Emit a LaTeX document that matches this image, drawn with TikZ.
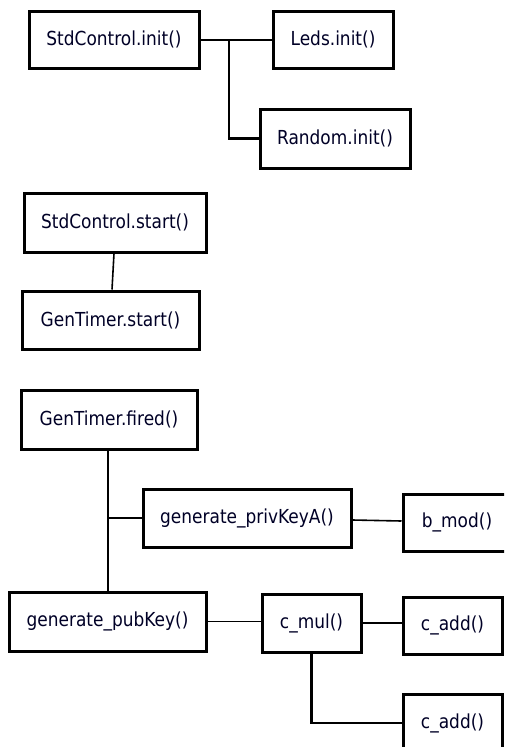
\documentclass[tikz,border=0pt]{standalone}
\usepackage{fontspec}
\setmainfont{DejaVu Sans}[FakeStretch=0.88]
\begin{document}
\begin{tikzpicture}[x=1pt,y=-1pt,
  fn/.style={draw=black, line width=3pt, inner sep=0pt, minimum height=57pt,
    font=\fontsize{19.3}{22}\selectfont, text=black!85!blue},
  link/.style={draw=black, line width=2.2pt},
  thin link/.style={draw=black, line width=1.6pt}]
\useasboundingbox (0,0) rectangle (504,747);
\clip (0,0) rectangle (504,747);

% initialisation
\node[fn, minimum width=170pt] (sinit) at (114,39.5) {StdControl.init()};
\node[fn, minimum width=120pt] (leds) at (333,39.5) {Leds.init()};
\node[fn, minimum width=150pt, minimum height=59pt] (rand) at (335,138.5) {Random.init()};

% start-up
\node[fn, minimum width=182pt, minimum height=59pt] (sstart) at (115,222.5) {StdControl.start()};
\node[fn, minimum width=177pt, minimum height=58pt] (gstart) at (110.5,320) {GenTimer.start()};

% timer event
\node[fn, minimum width=176pt, minimum height=59pt] (fired) at (109,419.5) {GenTimer.fired()};
\node[fn, minimum width=208pt, minimum height=58pt] (priv) at (247,518) {generate\_privKeyA()};
\node[fn, minimum width=108pt] (bmod) at (457,522.5) {b\_mod()};
\node[fn, minimum width=197pt, minimum height=59pt] (pub) at (107.5,621.5) {generate\_pubKey()};
\node[fn, minimum width=99pt, minimum height=58pt] (cmul) at (311.5,623) {c\_mul()};
\node[fn, minimum width=99pt] (cadd) at (452.5,625.5) {c\_add()};
\node[fn, minimum width=99pt, minimum height=58pt] (caddb) at (452.5,723) {c\_add()};

% junction points
\coordinate (j1) at (229,40);
\coordinate (j2) at (108,518);

% connectors
\draw[link] (sinit.east |- j1) -- (j1);
\draw[thin link] (j1) -- (leds.west |- j1);
\draw[link] (j1) -- (j1 |- rand.west) -- (rand.west);
\draw[thin link] ([xshift=-1pt]sstart.south) -- ([xshift=1.5pt]gstart.north);
\draw[link] (fired.south -| j2) -- (pub.north -| j2);
\draw[link] (j2) -- (priv.west |- j2);
\draw[thin link] ([yshift=-2pt]priv.east) -- ([yshift=1.5pt]bmod.west);
\draw[thin link] (pub.east) -- (cmul.west |- pub.east);
\draw[thin link] (cmul.east) -- (cadd.west |- cmul.east);
\draw[link] (cmul.south) |- (caddb.west);
\end{tikzpicture}
\end{document}
